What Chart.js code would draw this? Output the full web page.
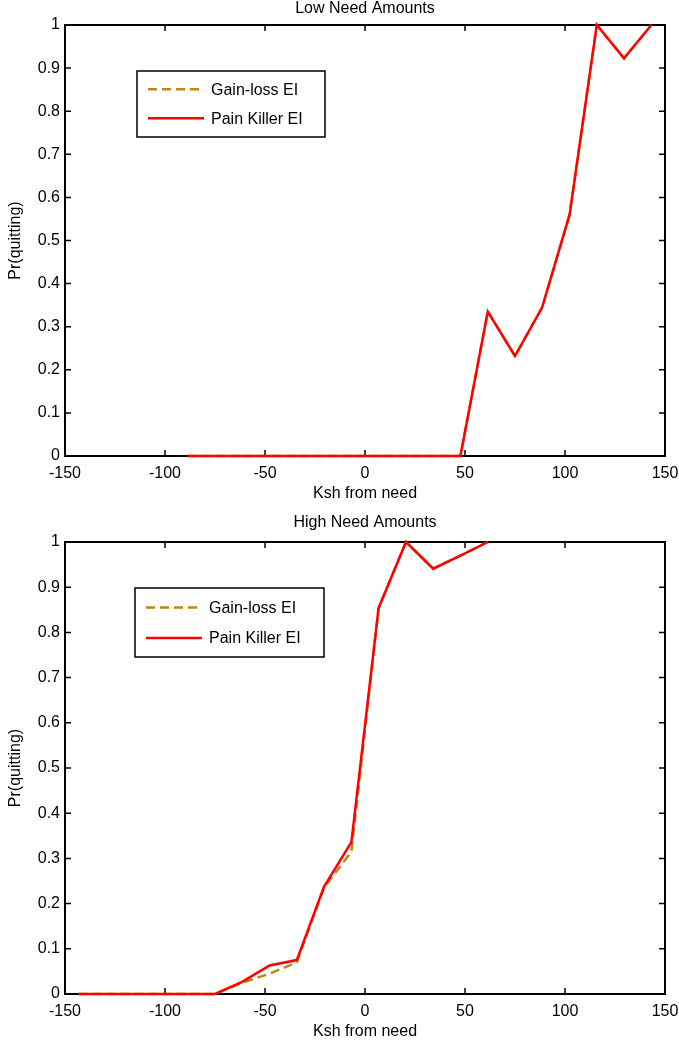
<!DOCTYPE html>
<html>
<head>
<meta charset="utf-8">
<script src="https://cdn.jsdelivr.net/npm/chart.js@4/dist/chart.umd.min.js"></script>
<style>
  html, body { margin: 0; padding: 0; background: #fff; }
  canvas { display: block; }
</style>
</head>
<body>
<canvas id="lowChart" width="679" height="510"></canvas>
<canvas id="highChart" width="679" height="530"></canvas>
<script>
// bin centres, Ksh from need
const ksh = [-143.2, -129.5, -115.9, -102.3, -88.6, -75, -61.4, -47.7, -34.1, -20.5, -6.8,
             6.8, 20.5, 34.1, 47.7, 61.4, 75, 88.6, 102.3, 115.9, 129.5, 143.2];

const lowGainLoss   = [null, null, null, null, 0, 0, 0, 0, 0, 0, 0, 0, 0, 0, 0, 0.335, 0.232, 0.345, 0.56, 1, 0.923, 1];
const lowPainKiller = [null, null, null, null, 0, 0, 0, 0, 0, 0, 0, 0, 0, 0, 0, 0.335, 0.232, 0.345, 0.56, 1, 0.923, 1];

const highGainLoss   = [0, 0, 0, 0, 0, 0, 0.025, 0.045, 0.07, 0.235, 0.315, 0.854, 1, 0.941, 0.97, 1, null, null, null, null, null, null];
const highPainKiller = [0, 0, 0, 0, 0, 0, 0.027, 0.063, 0.075, 0.237, 0.336, 0.854, 1, 0.941, 0.97, 1, null, null, null, null, null, null];

const seriesNames = ['Gain-loss EI', 'Pain Killer EI'];
const xTicks = [-150, -100, -50, 0, 50, 100, 150];
const yTicks = [0, 0.1, 0.2, 0.3, 0.4, 0.5, 0.6, 0.7, 0.8, 0.9, 1];

const FONT = '"Liberation Sans", Arial, sans-serif';
Chart.defaults.font.family = FONT;
Chart.defaults.font.size = 16;
Chart.defaults.color = '#000';

function toPoints(ys) { return ksh.map((x, i) => ({ x, y: ys[i] })); }

// box round the plot with inward ticks on all four sides
const boxTicks = {
  id: 'boxTicks',
  beforeDatasetsDraw(chart) {
    const { ctx, chartArea: a, scales: { x, y } } = chart;
    ctx.save();
    ctx.strokeStyle = '#000';
    ctx.lineWidth = 1.5;
    ctx.beginPath();
    xTicks.forEach(v => {
      const px = x.getPixelForValue(v);
      ctx.moveTo(px, a.bottom); ctx.lineTo(px, a.bottom - 6);
      ctx.moveTo(px, a.top); ctx.lineTo(px, a.top + 6);
    });
    yTicks.forEach(v => {
      const py = y.getPixelForValue(v);
      ctx.moveTo(a.left, py); ctx.lineTo(a.left + 6, py);
      ctx.moveTo(a.right, py); ctx.lineTo(a.right - 6, py);
    });
    ctx.stroke();
    ctx.lineWidth = 2;
    ctx.strokeRect(a.left, a.top, a.right - a.left, a.bottom - a.top);
    ctx.restore();
  }
};

// title centred over the axes, not over the canvas
const axesTitle = {
  id: 'axesTitle',
  afterDraw(chart, args, opts) {
    const { ctx, chartArea: a } = chart;
    ctx.save();
    ctx.fillStyle = '#000';
    ctx.font = '16px ' + FONT;
    ctx.textAlign = 'center';
    ctx.textBaseline = 'middle';
    ctx.fillText(opts.text, (a.left + a.right) / 2, opts.y);
    ctx.restore();
  }
};

// matlab style legend box inside the axes
const boxLegend = {
  id: 'boxLegend',
  afterDraw(chart, args, opts) {
    const { ctx, chartArea: a } = chart;
    const bx = a.left + opts.x, by = a.top + opts.y;
    ctx.save();
    ctx.fillStyle = '#fff';
    ctx.fillRect(bx, by, opts.w, opts.h);
    ctx.strokeStyle = '#000';
    ctx.lineWidth = 1.5;
    ctx.strokeRect(bx, by, opts.w, opts.h);
    chart.data.datasets.forEach((ds, i) => {
      const ly = by + opts.first + i * opts.row;
      ctx.strokeStyle = ds.borderColor;
      ctx.lineWidth = ds.borderWidth;
      ctx.setLineDash(ds.borderDash || []);
      ctx.beginPath();
      ctx.moveTo(bx + 11, ly); ctx.lineTo(bx + 67, ly);
      ctx.stroke();
      ctx.setLineDash([]);
      ctx.fillStyle = '#000';
      ctx.font = '16px ' + FONT;
      ctx.textBaseline = 'middle';
      ctx.fillText(ds.label, bx + 74, ly + 1);
    });
    ctx.restore();
  }
};

function makeChart(id, title, gain, pain, lay) {
  return new Chart(document.getElementById(id), {
    type: 'line',
    data: {
      datasets: [
        { label: seriesNames[0], data: toPoints(gain), borderColor: '#bf8610', borderWidth: 2.5,
          borderDash: [9, 5], pointRadius: 0, tension: 0, order: 1, clip: false },
        { label: seriesNames[1], data: toPoints(pain), borderColor: '#ff0000', borderWidth: 2.5,
          pointRadius: 0, tension: 0, order: 0, clip: false }
      ]
    },
    options: {
      responsive: false,
      devicePixelRatio: 1,
      animation: false,
      layout: { padding: { left: 0, right: 14, top: lay.top, bottom: 0 } },
      scales: {
        x: {
          type: 'linear', min: -150, max: 150,
          afterBuildTicks: s => { s.ticks = xTicks.map(v => ({ value: v })); },
          afterFit: s => { s.height = lay.xHeight; s.paddingLeft = 0; s.paddingRight = 0; },
          grid: { display: false, drawTicks: false },
          border: { display: false },
          ticks: { padding: 8, maxRotation: 0, autoSkip: false },
          title: { display: true, text: 'Ksh from need', padding: { top: 0, bottom: lay.xTitlePad } }
        },
        y: {
          type: 'linear', min: 0, max: 1,
          afterBuildTicks: s => { s.ticks = yTicks.map(v => ({ value: v })); },
          afterFit: s => { s.width = 65; s.paddingTop = 0; s.paddingBottom = 0; },
          grid: { display: false, drawTicks: false },
          border: { display: false },
          ticks: { padding: 5, callback: v => String(Number(v.toFixed(1))) },
          title: { display: true, text: 'Pr(quitting)', padding: { top: 6.4, bottom: 0 } }
        }
      },
      plugins: {
        legend: { display: false },
        tooltip: { enabled: false },
        title: { display: false },
        axesTitle: { text: title, y: lay.titleY },
        boxLegend: lay.legend
      }
    },
    plugins: [boxTicks, axesTitle, boxLegend]
  });
}

makeChart('lowChart', 'Low Need Amounts', lowGainLoss, lowPainKiller, {
  top: 25, xHeight: 54, xTitlePad: 6.4, titleY: 8.5,
  legend: { x: 72, y: 46, w: 188, h: 66, first: 18.3, row: 29 }
});
makeChart('highChart', 'High Need Amounts', highGainLoss, highPainKiller, {
  top: 32, xHeight: 46, xTitlePad: -1.6, titleY: 13,
  legend: { x: 70, y: 46, w: 189, h: 69, first: 19.4, row: 30.6 }
});
</script>
</body>
</html>
